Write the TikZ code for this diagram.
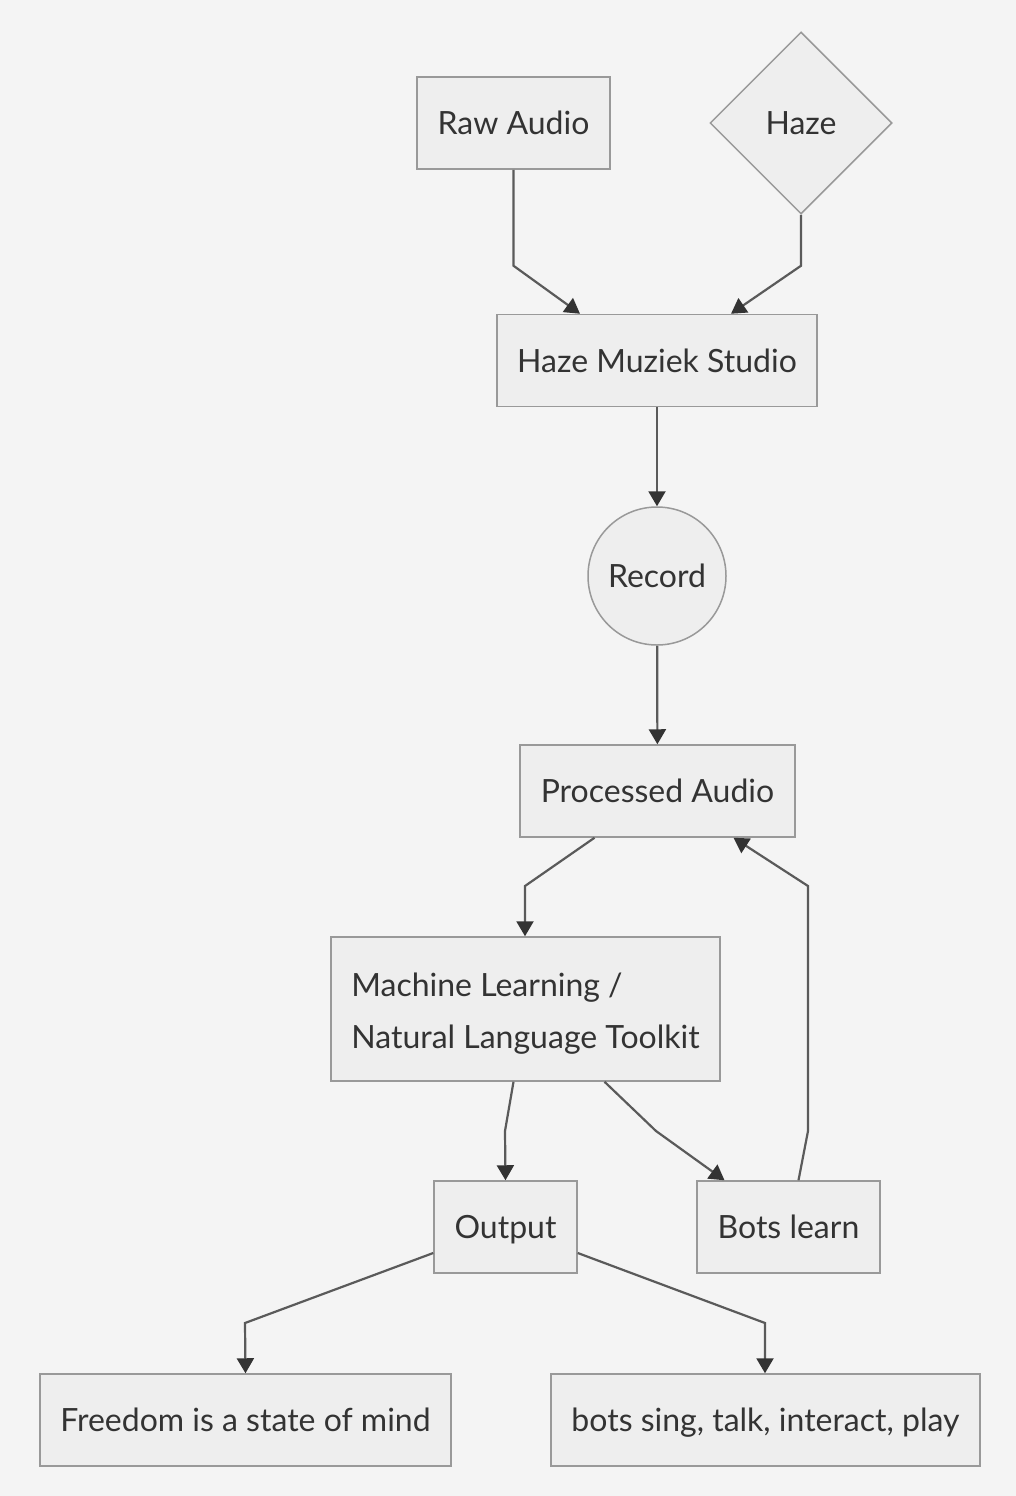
\documentclass[tikz,border=0pt]{standalone}
\usepackage{fontspec}
\setmainfont{Lato}
\usetikzlibrary{shapes.geometric,arrows.meta}
\definecolor{bgcol}{HTML}{F4F4F4}
\definecolor{boxfill}{HTML}{EEEEEE}
\definecolor{boxline}{HTML}{999999}
\definecolor{linecol}{HTML}{5A5A5A}
\definecolor{tipcol}{HTML}{333333}
\definecolor{textcol}{HTML}{333333}
\begin{document}
\begin{tikzpicture}[x=1pt,y=-1pt,
    box/.style={draw=boxline, fill=boxfill, line width=1.5pt, text=textcol,
        minimum height=92pt, inner sep=0pt, font=\fontsize{32}{52}\selectfont},
    oneline/.style={box, text height=23pt, text depth=0pt},
    flow/.style={draw=linecol, line width=2.2pt,
        -{Triangle[length=15pt,width=17pt,color=tipcol]}}
]
    \fill[bgcol] (0,0) rectangle (1016,1496);
    \useasboundingbox (0,0) rectangle (1016,1496);

    % nodes
    \node[oneline, minimum width=193pt] (raw) at (513.5,123) {Raw Audio};
    \node[oneline, diamond, minimum width=182pt, minimum height=182pt] (haze) at (801,123) {Haze};
    \node[oneline, minimum width=320pt] (studio) at (657,360.5) {Haze Muziek Studio};
    \node[oneline, circle, minimum size=138pt] (record) at (657,576) {Record};
    \node[oneline, minimum width=275pt] (processed) at (657.5,791) {Processed Audio};
    \node[box, minimum width=389pt, minimum height=144pt, align=left] (ml) at (525.5,1009)
        {\rule{0pt}{33pt}Machine Learning /\\Natural Language Toolkit};
    \node[oneline, minimum width=143pt] (output) at (505.5,1227) {Output};
    \node[oneline, minimum width=183pt] (bots) at (788.5,1227) {Bots learn};
    \node[oneline, minimum width=411pt] (freedom) at (245.5,1420) {Freedom is a state of mind};
    \node[oneline, minimum width=429pt] (sing) at (765.5,1420) {bots sing, talk, interact, play};

    % connectors
    \draw[flow] (raw.south) -- ++(0,96) -- ([xshift=-77pt]studio.north);
    \draw[flow] (haze.south) -- ++(0,51) -- ([xshift=74pt]studio.north);
    \draw[flow] (studio) -- (record);
    \draw[flow] (record) -- (processed);
    \draw[flow] ([xshift=-63pt]processed.south) -- (525,886) -- ([xshift=-0.5pt]ml.north);
    \draw[flow] ([xshift=-12pt]ml.south) -- (505,1131) -- (output.north);
    \draw[flow] ([xshift=79pt]ml.south) -- (656,1131) -- ([xshift=-64pt]bots.north);
    \draw[flow] ([xshift=10pt]bots.north) -- (808,1131) -- (808,886) -- ([xshift=76pt]processed.south);
    \draw[flow] ([yshift=-26pt]output.west) -- (245,1323) -- (freedom.north);
    \draw[flow] ([yshift=-26pt]output.east) -- (765,1323) -- ([xshift=-0.5pt]sing.north);
\end{tikzpicture}
\end{document}
